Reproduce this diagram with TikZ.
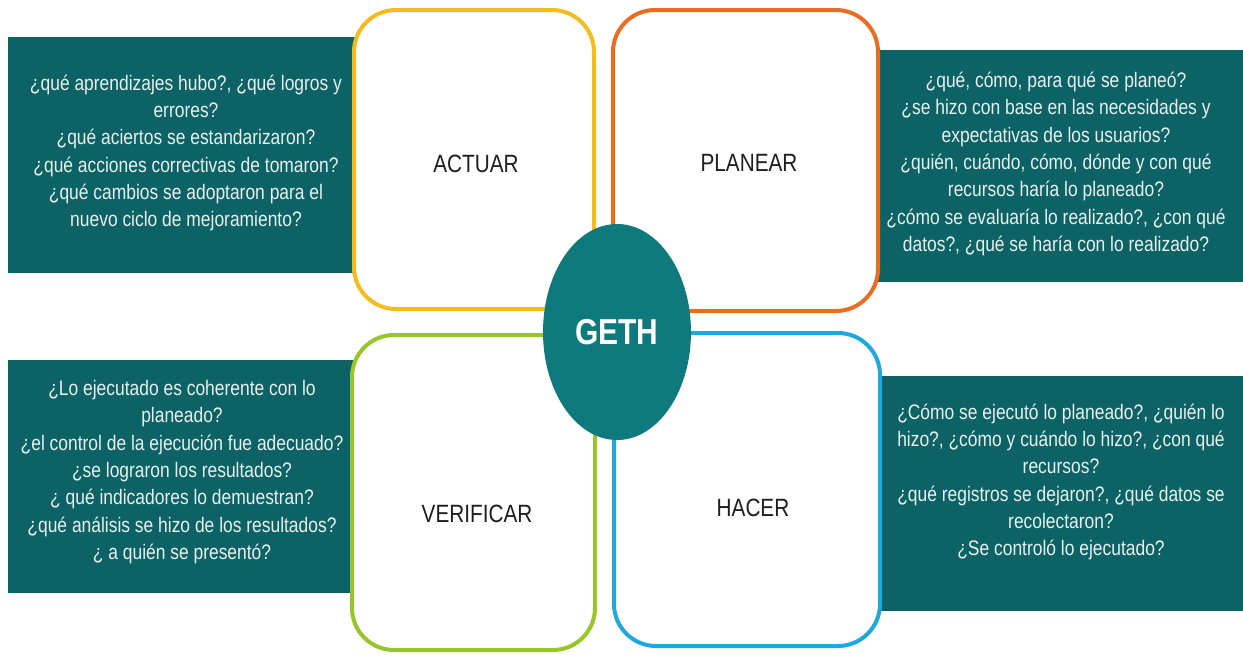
\documentclass[tikz,border=0pt]{standalone}
\usepackage{fontspec}
\setmainfont{Liberation Sans}[FakeStretch=0.83]
\usepackage{tikz}
\usepackage{tkz-euclide}
\usetikzlibrary{shapes.geometric}

\definecolor{verdeazul}{RGB}{12,98,100}
\definecolor{centro}{RGB}{15,122,125}
\definecolor{amarelo}{RGB}{244,188,28}
\definecolor{laranja}{RGB}{234,108,30}
\definecolor{verde}{RGB}{152,197,42}
\definecolor{azul}{RGB}{31,168,224}
\definecolor{textoclaro}{RGB}{232,240,240}
\definecolor{cinzaescuro}{RGB}{30,30,30}

\begin{document}
\begin{tikzpicture}[x=1pt, y=-1pt,
  fundo/.style={fill=verdeazul},
  caixa/.style={line width=4pt, rounded corners=42pt, fill=white},
  pergunta/.style={text=textoclaro, align=center, font=\fontsize{21}{27.3}\selectfont},
  rotulo/.style={text=cinzaescuro, font=\fontsize{25}{30}\selectfont}] %estilos das caixas e dos textos

%Os pontos sao dados em pixels (x/y/NomedoPonto), com o eixo y para baixo
\tkzDefPoints{
8/37/A1, 362/273/A2,
872/50/B1, 1243/282/B2,
8/360/C1, 360/593/C2,
875/376/D1, 1243/611/D2,
354/10/E1, 594/309/E2,
613/10/F1, 878/311/F2,
352/335/G1, 595/650/G2,
614/333/H1, 880/646/H2,
617/332/O,
186/153/T1, 1056/164/T2, 182/472/T3, 1061/482/T4,
476/164/L1, 749/163/L2, 477/514/L3, 753/508/L4}

\useasboundingbox (0,0) rectangle (1243,654);

%Retangulos verde-azulados com as perguntas (ficam atras das caixas)
%---------------------------------------------------
\fill[fundo] (A1) rectangle (A2);
\fill[fundo] (B1) rectangle (B2);
\fill[fundo] (C1) rectangle (C2);
\fill[fundo] (D1) rectangle (D2);
%---------------------------------------------------

%As quatro caixas do ciclo, cada uma com sua cor de borda
%---------------------------------------------------
\draw[caixa, draw=amarelo] (E1) rectangle (E2);
\draw[caixa, draw=laranja] (F1) rectangle (F2);
\draw[caixa, draw=verde] (G1) rectangle (G2);
\draw[caixa, draw=azul] (H1) rectangle (H2);
%---------------------------------------------------

%Elipse central
%---------------------------------------------------
\node[ellipse, fill=centro, minimum width=148pt, minimum height=216pt, inner sep=0pt,
  text=white, font=\fontsize{36}{40}\selectfont\bfseries] (geth) at (O) {GETH};
%---------------------------------------------------

%Nomes das etapas
%---------------------------------------------------
\node[rotulo] (actuar) at (L1) {ACTUAR};
\node[rotulo] (planear) at (L2) {PLANEAR};
\node[rotulo] (verificar) at (L3) {VERIFICAR};
\node[rotulo] (hacer) at (L4) {HACER};
%---------------------------------------------------

%Perguntas de cada etapa
%---------------------------------------------------
\node[pergunta] (qactuar) at (T1) {¿qué aprendizajes hubo?, ¿qué logros y\\errores?\\¿qué aciertos se estandarizaron?\\¿qué acciones correctivas de tomaron?\\¿qué cambios se adoptaron para el\\nuevo ciclo de mejoramiento?};
\node[pergunta] (qplanear) at (T2) {¿qué, cómo, para qué se planeó?\\¿se hizo con base en las necesidades y\\expectativas de los usuarios?\\¿quién, cuándo, cómo, dónde y con qué\\recursos haría lo planeado?\\¿cómo se evaluaría lo realizado?, ¿con qué\\datos?, ¿qué se haría con lo realizado?};
\node[pergunta] (qverificar) at (T3) {¿Lo ejecutado es coherente con lo\\planeado?\\¿el control de la ejecución fue adecuado?\\¿se lograron los resultados?\\¿ qué indicadores lo demuestran?\\¿qué análisis se hizo de los resultados?\\¿ a quién se presentó?};
\node[pergunta] (qhacer) at (T4) {¿Cómo se ejecutó lo planeado?, ¿quién lo\\hizo?, ¿cómo y cuándo lo hizo?, ¿con qué\\recursos?\\¿qué registros se dejaron?, ¿qué datos se\\recolectaron?\\¿Se controló lo ejecutado?};
%---------------------------------------------------

\end{tikzpicture}
\end{document}
